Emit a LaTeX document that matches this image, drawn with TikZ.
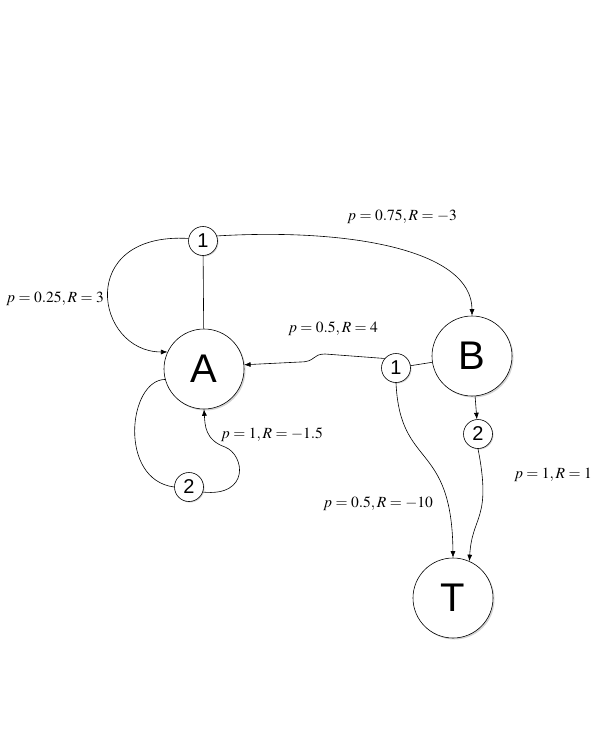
\documentclass[tikz,border=0pt]{standalone}
\usepackage{mathptmx}
\usepackage{fontspec}
\setsansfont{Liberation Sans}
\usetikzlibrary{
arrows,
arrows.meta,
shadows
}
\tikzset{>={Latex[length=6.5pt,width=5pt]}}

\begin{document}
\begin{tikzpicture}[x=1pt, y=-1pt, line width=0.6pt,
	state/.style={
		circle,
		draw,
		fill=white,
		minimum size=80pt,
		inner sep=0pt,
		font=\fontsize{40}{40}\sffamily,
		drop shadow={shadow xshift=1.5pt, shadow yshift=-1.5pt, opacity=0.35}
	},
	choice/.style={
		circle,
		draw,
		fill=white,
		minimum size=29pt,
		inner sep=0pt,
		font=\fontsize{20}{20}\sffamily,
		drop shadow={shadow xshift=1pt, shadow yshift=-1pt, opacity=0.35}
	},
	lbl/.style={font=\fontsize{15.5}{18}\selectfont}]
		\useasboundingbox (0,0) rectangle (610,733);

		\node[state]  (A)  at (204,369) {A};
		\node[state]  (B)  at (472,356) {B};
		\node[state]  (T)  at (453,598) {T};
		\node[choice] (A1) at (203,241) {1};
		\node[choice] (A2) at (189,487) {2};
		\node[choice] (B1) at (396,368) {1};
		\node[choice] (B2) at (478,434) {2};

		\node[lbl] (l1) at (55,299)  {$p=0.25, R=3$};
		\node[lbl] (l2) at (402,217) {$p=0.75, R=-3$};
		\node[lbl] (l3) at (333,329) {$p=0.5, R=4$};
		\node[lbl] (l4) at (272,435) {$p=1, R=-1.5$};
		\node[lbl] (l5) at (378,504) {$p=0.5, R=-10$};
		\node[lbl] (l6) at (553,475) {$p=1, R=1$};

		\draw     (A1) -- (A);
		\draw[->] (A1.170) .. controls (75,232) and (95,352) .. (A.155);
		\draw[->] (A1.20) .. controls (350,228) and (472,250) .. (B.north);
		\draw     (A.195) .. controls (128,380) and (118,480) .. (A2.west);
		\draw[->] (A2.-20) .. controls (250,497) and (245,455) .. (225,447)
		                   .. controls (205,440) and (205,425) .. (A.south);

		\draw     (B1) -- (B);
		\draw[->] (B1.140) -- (325,354) .. controls (312,354) and (316,362) .. (300,362) -- (A.6);
		\draw[->] (B1.south) .. controls (400,470) and (452,440) .. (T.north);
		\draw[->] (B) -- (B2);
		\draw[->] (B2.south) .. controls (492,520) and (472,515) .. (T.66);
	\end{tikzpicture}
\end{document}
